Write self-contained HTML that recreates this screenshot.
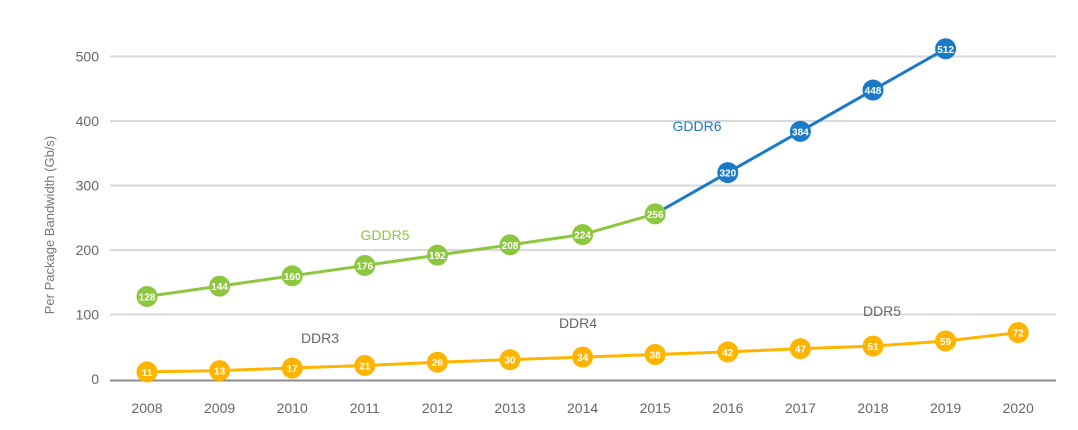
<!DOCTYPE html>
<html><head><meta charset="utf-8"><style>
body{margin:0;background:#fff;}
svg{display:block;font-family:"Liberation Sans",sans-serif;}
</style></head><body>
<svg id="c" width="1078" height="430" viewBox="0 0 1078 430"></svg>
<script>
const s=document.getElementById('c');
const X=y=>147+(y-2008)*72.6, Y=v=>379-v*0.645;
let h='';
for(let v=100;v<=500;v+=100){h+=`<line x1="110" x2="1056" y1="${Y(v)}" y2="${Y(v)}" stroke="#d9d9d9" stroke-width="2"/>`;}
h+=`<line x1="110" x2="1056" y1="380.5" y2="380.5" stroke="#8c8c8c" stroke-width="2"/>`;
for(let v=0;v<=500;v+=100)h+=`<text x="99" y="${Y(v)+5}" text-anchor="end" font-size="14" fill="#666">${v}</text>`;
for(let y=2008;y<=2020;y++)h+=`<text x="${X(y)}" y="413" text-anchor="middle" font-size="14" fill="#666">${y}</text>`;
h+=`<text transform="translate(54,225) rotate(-90)" text-anchor="middle" font-size="13" fill="#777">Per Package Bandwidth (Gb/s)</text>`;
const o=[11,13,17,21,26,30,34,38,42,47,51,59,72];
const g=[128,144,160,176,192,208,224,256];
const b=[256,320,384,448,512];
function line(pts,c){h+=`<polyline fill="none" stroke="${c}" stroke-width="3" points="${pts.map(p=>X(p[0])+','+Y(p[1])).join(' ')}"/>`;}
line(o.map((v,i)=>[2008+i,v]),'#ffb400');
line(g.map((v,i)=>[2008+i,v]),'#8dc63f');
line(b.map((v,i)=>[2015+i,v]),'#1a7ac8');
function dots(arr,start,c){arr.forEach((v,i)=>{const x=X(start+i),y=Y(v);h+=`<circle cx="${x}" cy="${y}" r="10.5" fill="${c}"/><text x="${x}" y="${y+4}" text-anchor="middle" font-size="10" font-weight="bold" fill="#fff">${v}</text>`;});}
dots(o,2008,'#ffb400');
dots(g,2008,'#8dc63f');
dots(b.slice(1),2016,'#1a7ac8');
h+=`<text x="385" y="240" text-anchor="middle" font-size="14" fill="#8dc63f">GDDR5</text>`;
h+=`<text x="697" y="131" text-anchor="middle" font-size="14" fill="#1a7ac8">GDDR6</text>`;
h+=`<text x="320" y="343" text-anchor="middle" font-size="14" fill="#666">DDR3</text>`;
h+=`<text x="578" y="328" text-anchor="middle" font-size="14" fill="#666">DDR4</text>`;
h+=`<text x="882" y="316" text-anchor="middle" font-size="14" fill="#666">DDR5</text>`;
s.innerHTML=h;
</script>
</body></html>
